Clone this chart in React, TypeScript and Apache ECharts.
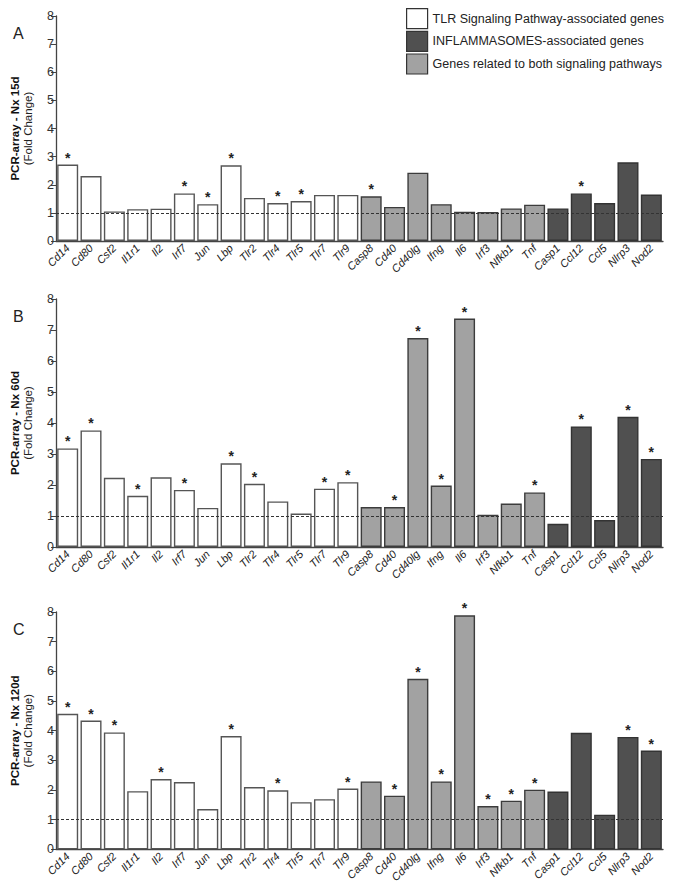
import React, { useEffect, useRef } from "react";
import * as echarts from "echarts";

const genes = ["Cd14","Cd80","Csf2","Il1r1","Il2","Irf7","Jun","Lbp","Tlr2","Tlr4","Tlr5","Tlr7","Tlr9","Casp8","Cd40","Cd40lg","Ifng","Il6","Irf3","Nfkb1","Tnf","Casp1","Ccl12","Ccl5","Nlrp3","Nod2"];
// 0 = TLR, 1 = both, 2 = inflammasomes
const geneGroup = [0,0,0,0,0,0,0,0,0,0,0,0,0,1,1,1,1,1,1,1,1,2,2,2,2,2];
const groupNames = ["TLR Signaling Pathway-associated genes","INFLAMMASOMES-associated genes","Genes related to both signaling pathways"];

const valuesA = [2.72,2.31,1.05,1.13,1.15,1.69,1.31,2.69,1.53,1.35,1.42,1.64,1.64,1.59,1.21,2.43,1.31,1.04,1.03,1.16,1.29,1.16,1.69,1.35,2.80,1.65];
const starsA = ["Cd14","Irf7","Jun","Lbp","Tlr4","Tlr5","Casp8","Ccl12"];
const valuesB = [3.18,3.76,2.23,1.65,2.25,1.84,1.26,2.70,2.04,1.47,1.08,1.88,2.09,1.29,1.29,6.74,1.98,7.37,1.04,1.40,1.76,0.75,3.89,0.87,4.20,2.84];
const starsB = ["Cd14","Cd80","Il1r1","Irf7","Lbp","Tlr2","Tlr7","Tlr9","Cd40","Cd40lg","Ifng","Il6","Tnf","Ccl12","Nlrp3","Nod2"];
const valuesC = [4.57,4.34,3.94,1.96,2.37,2.27,1.36,3.82,2.10,1.99,1.59,1.69,2.05,2.29,1.81,5.75,2.29,7.89,1.46,1.64,2.01,1.95,3.93,1.17,3.79,3.33];
const starsC = ["Cd14","Cd80","Csf2","Il2","Lbp","Tlr4","Tlr9","Cd40","Cd40lg","Ifng","Il6","Irf3","Nfkb1","Tnf","Nlrp3","Nod2"];
const panelTitles = ["PCR-array - Nx 15d","PCR-array - Nx 60d","PCR-array - Nx 120d"];
const panelLetters = ["A","B","C"];

const fills = ["#ffffff", "#505050", "#a2a2a2"];
const borders = ["#555555", "#333333", "#3c3c3c"];
// group index mapping to legend order: TLR(0)->0, both(1)->2, infl(2)->1
const groupToLegend = [0, 2, 1];

const FONT = "Liberation Sans, Arial, sans-serif";

export default function App() {
  const ref = useRef<HTMLDivElement>(null);
  useEffect(() => {
    if (!ref.current) return;
    const chart = echarts.init(ref.current, null, { renderer: "svg" });
    const panels = [
      { values: valuesA, stars: starsA, top: 16, height: 225 },
      { values: valuesB, stars: starsB, top: 299, height: 248 },
      { values: valuesC, stars: starsC, top: 612, height: 238 },
    ];
    const grids: any[] = [];
    const xAxes: any[] = [];
    const yAxes: any[] = [];
    const series: any[] = [];
    const titles: any[] = [];
    panels.forEach((p, pi) => {
      grids.push({ left: 50, width: 613, top: p.top, height: p.height });
      xAxes.push({
        type: "category",
        gridIndex: pi,
        data: genes,
        axisLine: { lineStyle: { color: "#444", width: 1.3 } },
        axisTick: { alignWithLabel: true, length: 5, lineStyle: { color: "#444" } },
        axisLabel: { interval: 0, rotate: 45, fontStyle: "italic", fontSize: 11, color: "#222", fontFamily: FONT, margin: 5 },
      });
      yAxes.push({
        type: "value",
        gridIndex: pi,
        min: 0,
        max: 8,
        interval: 1,
        splitLine: { show: false },
        axisLine: { show: true, lineStyle: { color: "#444", width: 1.3 } },
        axisTick: { show: true, length: 5, lineStyle: { color: "#444" } },
        axisLabel: { fontSize: 12.5, color: "#333", fontFamily: FONT, margin: 2 },
        name: `{a|${panelTitles[pi]}}\n{b|(Fold Change)}`,
        nameLocation: "middle",
        nameGap: 22,
        nameRotate: 90,
        nameTextStyle: {
          fontFamily: FONT,
          lineHeight: 13,
          rich: {
            a: { fontSize: 11.5, fontWeight: "bold", color: "#111", fontFamily: FONT, lineHeight: 13 },
            b: { fontSize: 11.5, color: "#222", fontFamily: FONT, lineHeight: 13 },
          },
        },
      });
      titles.push({ text: panelLetters[pi], left: 8, top: p.top + 4, textStyle: { fontSize: 16, fontWeight: "normal", color: "#222", fontFamily: FONT } });
      [0, 1, 2].forEach((g) => {
        const li = groupToLegend[g];
        series.push({
          type: "bar",
          name: groupNames[li],
          xAxisIndex: pi,
          yAxisIndex: pi,
          barGap: "-100%",
          barCategoryGap: "10%",
          itemStyle: { color: fills[li], borderColor: borders[li], borderWidth: 1.4 },
          data: genes.map((gene, i) => {
            if (geneGroup[i] !== g) return "-";
            const starred = p.stars.includes(gene);
            return {
              value: p.values[i],
              label: {
                show: starred,
                position: "top",
                formatter: "*",
                distance: 0,
                fontSize: 14,
                fontWeight: "bold",
                color: "#222",
                fontFamily: FONT,
              },
            };
          }),
          markLine: g === 0 ? {
            silent: true,
            symbol: "none",
            label: { show: false },
            lineStyle: { type: [3, 2], color: "#333", width: 1.2 },
            data: [{ yAxis: 1 }],
          } : undefined,
        });
      });
    });
    chart.setOption({
      animation: false,
      backgroundColor: "#ffffff",
      title: titles,
      legend: {
        orient: "vertical",
        left: 401,
        top: 3,
        itemWidth: 21,
        itemHeight: 20,
        itemGap: 1.5,
        icon: "rect",
        textStyle: { fontSize: 12.5, color: "#222", fontFamily: FONT },
        data: groupNames.map((n, i) => ({
          name: n,
          itemStyle: { color: fills[i], borderColor: "#333", borderWidth: 1.2 },
        })),
      },
      grid: grids,
      xAxis: xAxes,
      yAxis: yAxes,
      series,
    });
    return () => chart.dispose();
  }, []);
  return <div ref={ref} style={{ position: "absolute", left: 0, top: 0, width: 675, height: 885 }} />;
}
